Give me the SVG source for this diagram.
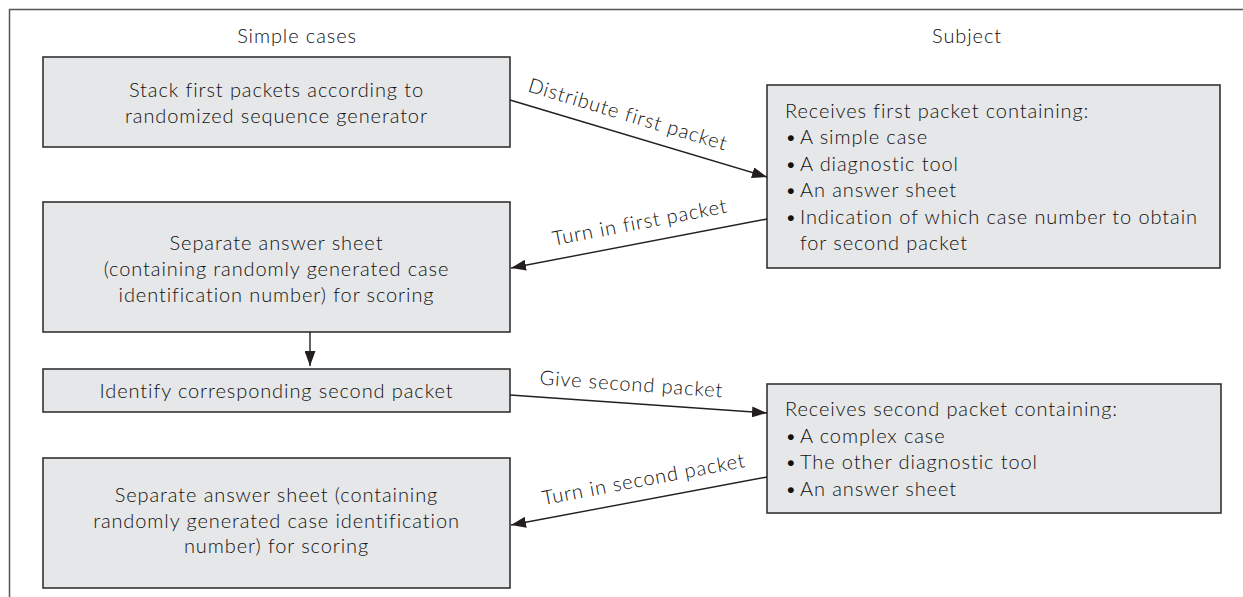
<svg xmlns="http://www.w3.org/2000/svg" width="1243" height="597" viewBox="0 0 1243 597">
<defs>
<style>
text{font-family:Lato,"Open Sans","Liberation Sans",sans-serif;font-size:20px;font-weight:300;letter-spacing:0.9px;fill:#111}
.box{fill:#e6e7e8;stroke:#333;stroke-width:1.6}
.c{text-anchor:middle}
.conn{stroke:#231f20;stroke-width:1.4;fill:none;marker-end:url(#ah)}
</style>
<marker id="ah" markerUnits="userSpaceOnUse" markerWidth="16" markerHeight="11" refX="15" refY="5.5" orient="auto">
<path d="M0,0 L15,5.5 L0,11 Z" fill="#231f20"/>
</marker>
</defs>
<rect width="1243" height="597" fill="#fff"/>
<path d="M9.5,597 V9.5 H1243" fill="none" stroke="#555" stroke-width="1.5"/>
<text class="c" x="297" y="43">Simple cases</text>
<text class="c" x="967" y="43">Subject</text>

<g id="n1">
<rect class="box" x="43" y="57" width="467" height="90"/>
<text class="c" x="276.5" y="97">Stack first packets according to</text>
<text class="c" x="276.5" y="122.5">randomized sequence generator</text>
</g>
<g id="n2">
<rect class="box" x="43" y="202" width="467" height="130"/>
<text class="c" x="276.5" y="250">Separate answer sheet</text>
<text class="c" x="276.5" y="276">(containing randomly generated case</text>
<text class="c" x="276.5" y="302">identification number) for scoring</text>
</g>
<g id="n3">
<rect class="box" x="43" y="369" width="467" height="43"/>
<text class="c" x="276.5" y="398">Identify corresponding second packet</text>
</g>
<g id="n4">
<rect class="box" x="43" y="458" width="467" height="130"/>
<text class="c" x="276.5" y="502">Separate answer sheet (containing</text>
<text class="c" x="276.5" y="527.5">randomly generated case identification</text>
<text class="c" x="276.5" y="553">number) for scoring</text>
</g>
<g id="s1">
<rect class="box" x="767" y="85" width="453" height="183"/>
<text x="785" y="117.5">Receives first packet containing:</text>
<text y="144"><tspan x="785">•</tspan><tspan x="800">A simple case</tspan></text>
<text y="170.5"><tspan x="785">•</tspan><tspan x="800">A diagnostic tool</tspan></text>
<text y="197"><tspan x="785">•</tspan><tspan x="800">An answer sheet</tspan></text>
<text y="223.5"><tspan x="785">•</tspan><tspan x="800">Indication of which case number to obtain</tspan></text>
<text x="800" y="250">for second packet</text>
</g>
<g id="s2">
<rect class="box" x="767" y="384" width="454" height="129"/>
<text x="785" y="416">Receives second packet containing:</text>
<text y="442.7"><tspan x="785">•</tspan><tspan x="800">A complex case</tspan></text>
<text y="469.3"><tspan x="785">•</tspan><tspan x="800">The other diagnostic tool</tspan></text>
<text y="496"><tspan x="785">•</tspan><tspan x="800">An answer sheet</tspan></text>
</g>

<g id="connectors">
<line class="conn" x1="510" y1="100" x2="767" y2="177"/>
<line class="conn" x1="767" y1="219" x2="511" y2="268"/>
<line class="conn" x1="310" y1="332" x2="310" y2="366"/>
<line class="conn" x1="510" y1="395" x2="767" y2="413"/>
<line class="conn" x1="767" y1="477" x2="511" y2="525"/>
<text class="c" x="626" y="121" transform="rotate(16.7 626 121)">Distribute first packet</text>
<text class="c" x="641" y="229" transform="rotate(-10.8 641 229)">Turn in first packet</text>
<text class="c" x="631" y="391" transform="rotate(4 631 391)">Give second packet</text>
<text class="c" x="645" y="486" transform="rotate(-10.7 645 486)">Turn in second packet</text>
</g>
</svg>
